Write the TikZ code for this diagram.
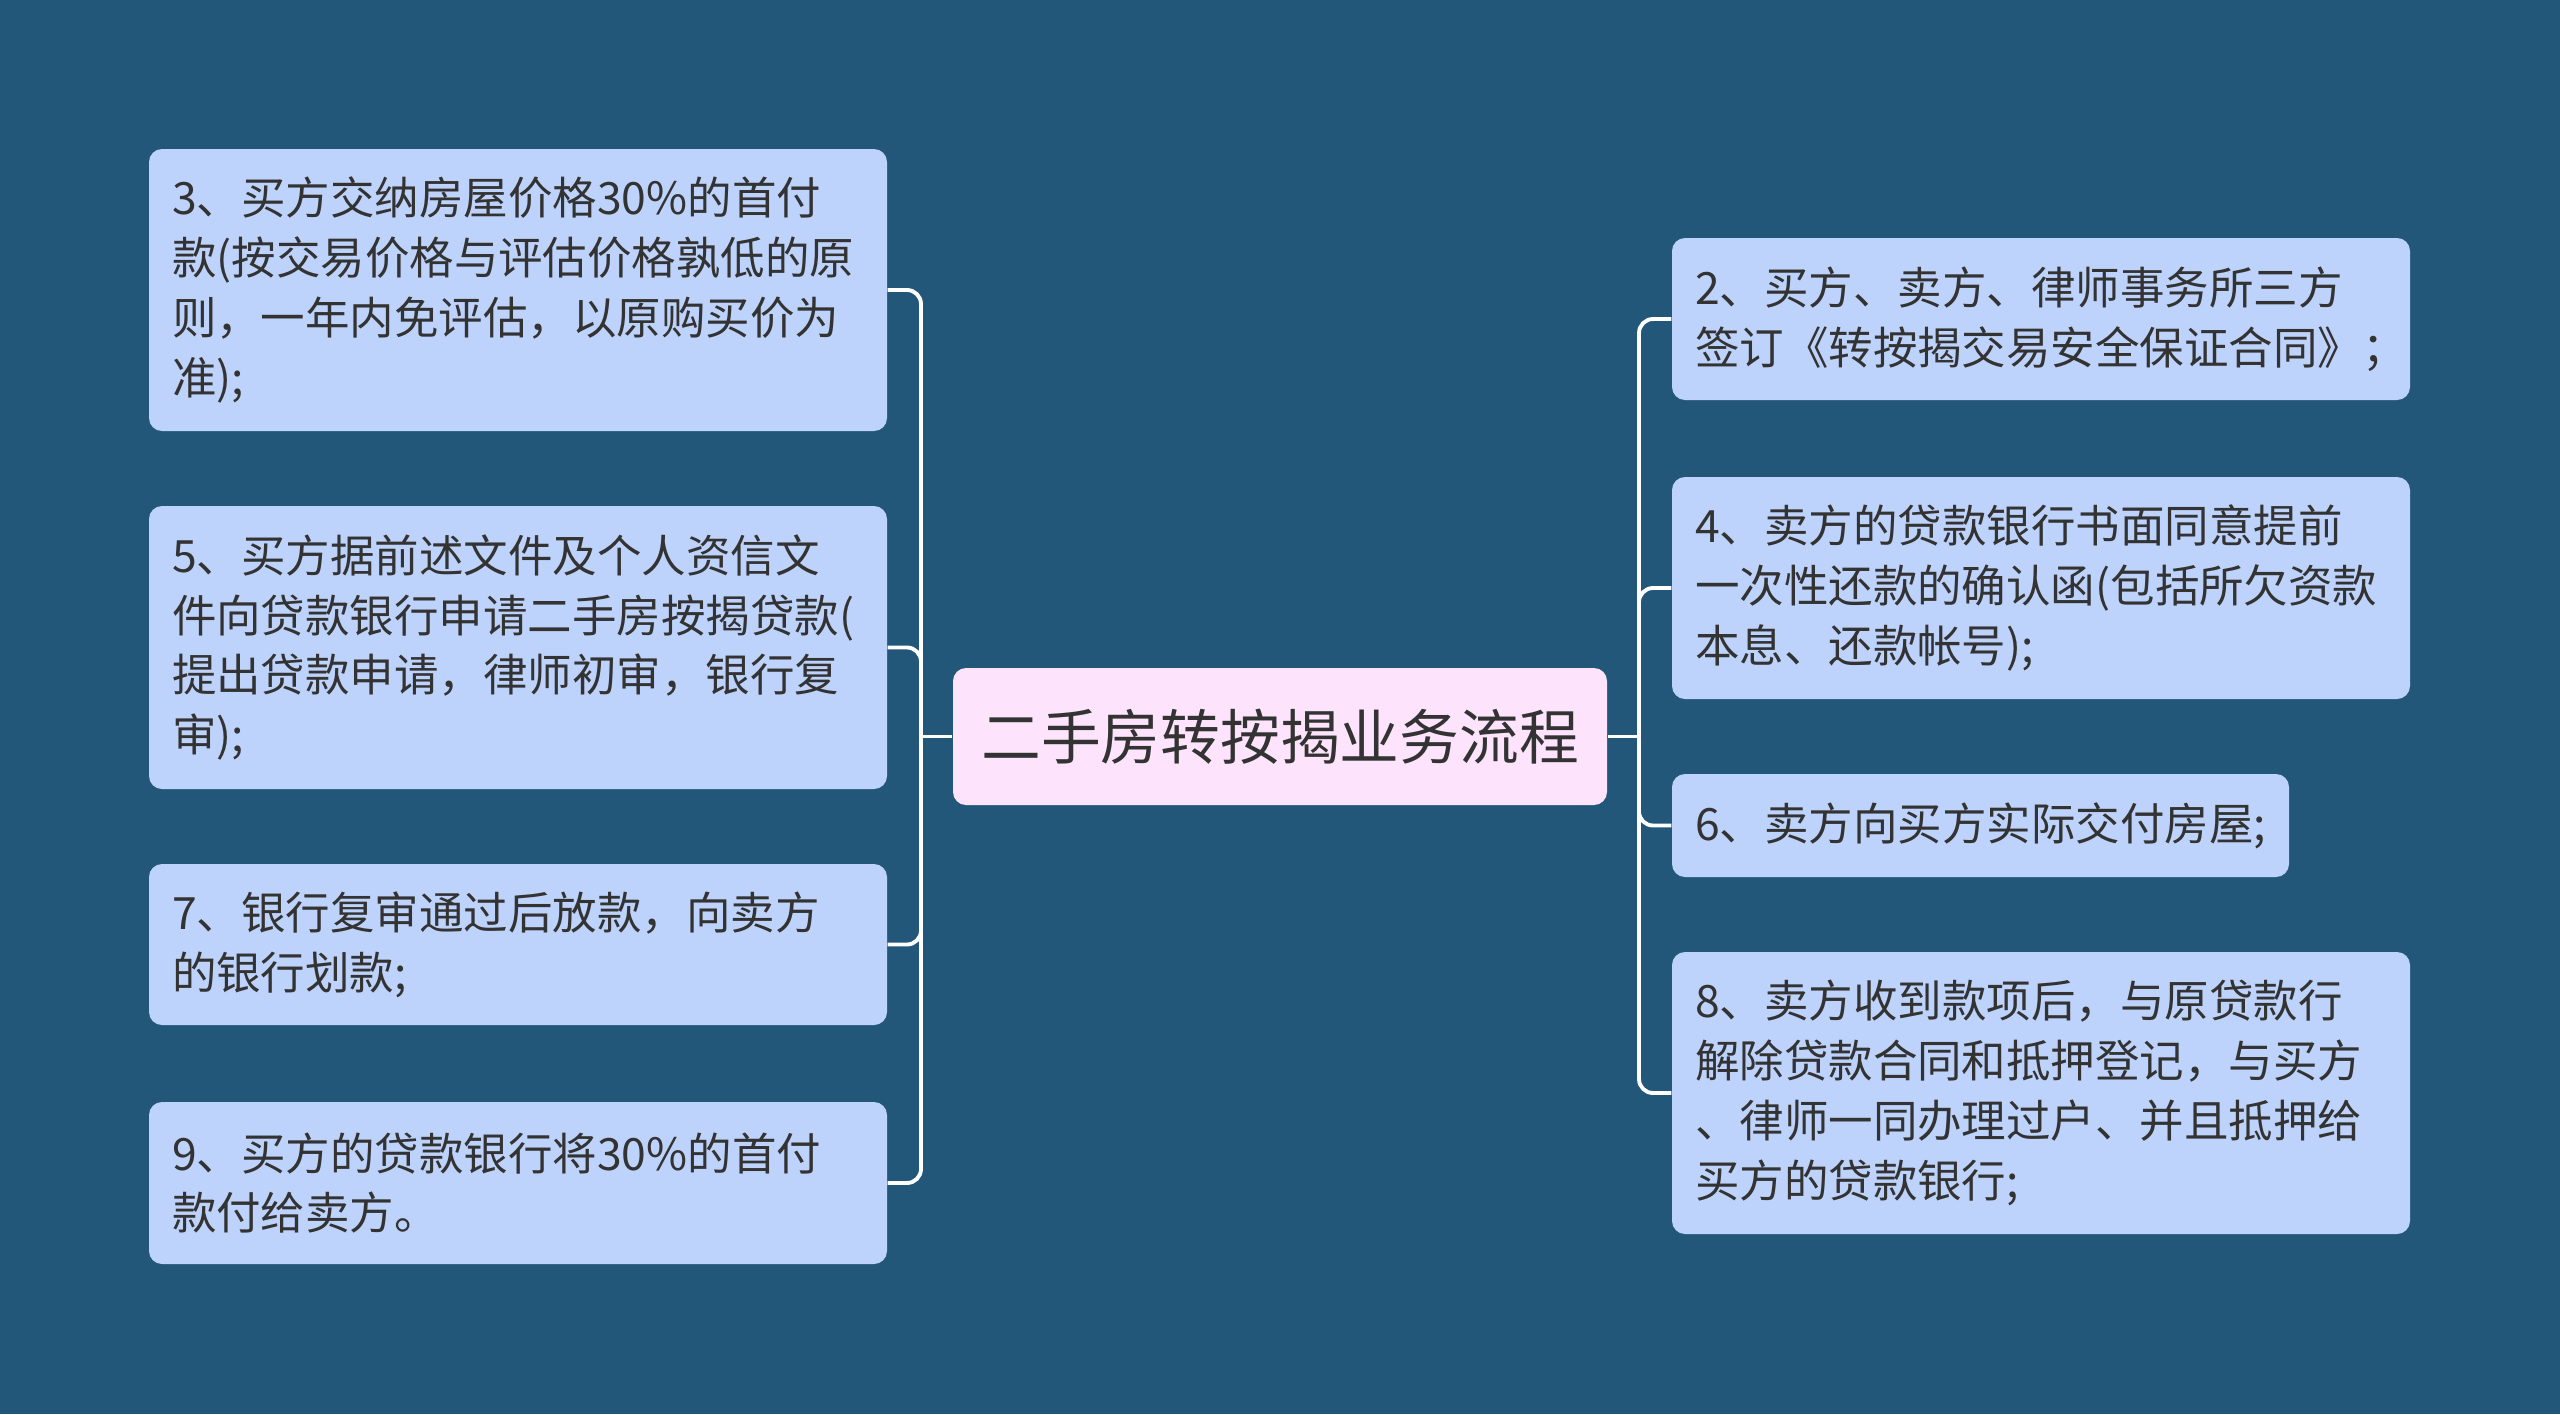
\documentclass[tikz,border=0pt]{standalone}
\usepackage{fontspec}
\setmainfont{Noto Sans CJK SC}
\definecolor{bg}{RGB}{35,87,121}
\definecolor{boxfill}{RGB}{190,211,252}
\definecolor{rootfill}{RGB}{253,228,252}
\definecolor{txt}{RGB}{51,51,51}
\begin{document}
\begin{tikzpicture}[
  leaf/.style={fill=boxfill, rounded corners=0.13cm, inner xsep=0.23cm, inner ysep=0cm,
    text=txt, font=\fontsize{12.66pt}{17pt}\selectfont, align=left},
  wideleaf/.style={leaf, text width=6.92cm, minimum width=7.38cm},
  root/.style={fill=rootfill, rounded corners=0.13cm, text=txt,
    font=\fontsize{17pt}{20pt}\selectfont, minimum width=6.54cm, minimum height=1.37cm, inner sep=0cm},
  conn/.style={draw=white, line width=1.1pt},
  branch/.style={conn, rounded corners=0.14cm}
]
\fill[bg] (0,0) rectangle (25.6,-14.14);
\useasboundingbox (0,0) rectangle (25.6,-14.14);

\node[root] (c) at (12.80,-7.365) {二手房转按揭业务流程};

\node[wideleaf, minimum height=2.82cm] (b3) at (5.18,-2.90) {3、买方交纳房屋价格30\%的首付\\款(按交易价格与评估价格孰低的原\\则，一年内免评估，以原购买价为\\准);};
\node[wideleaf, minimum height=2.83cm] (b5) at (5.18,-6.475) {5、买方据前述文件及个人资信文\\件向贷款银行申请二手房按揭贷款(\\提出贷款申请，律师初审，银行复\\审);};
\node[wideleaf, minimum height=1.61cm] (b7) at (5.18,-9.445) {7、银行复审通过后放款，向卖方\\的银行划款;};
\node[wideleaf, minimum height=1.62cm] (b9) at (5.18,-11.83) {9、买方的贷款银行将30\%的首付\\款付给卖方。};

\node[wideleaf, minimum height=1.62cm] (b2) at (20.41,-3.19) {2、买方、卖方、律师事务所三方\\签订《转按揭交易安全保证合同》；};
\node[wideleaf, minimum height=2.22cm] (b4) at (20.41,-5.88) {4、卖方的贷款银行书面同意提前\\一次性还款的确认函(包括所欠资款\\本息、还款帐号);};
\node[leaf, minimum width=6.17cm, minimum height=1.03cm] (b6) at (19.805,-8.255) {6、卖方向买方实际交付房屋;};
\node[wideleaf, minimum height=2.82cm] (b8) at (20.41,-10.93) {8、卖方收到款项后，与原贷款行\\解除贷款合同和抵押登记，与买方\\、律师一同办理过户、并且抵押给\\买方的贷款银行;};

\coordinate (lj) at (9.21,-7.365);
\coordinate (rj) at (16.39,-7.365);
\draw[conn] (c.west) -- (lj);
\draw[conn] (c.east) -- (rj);
\foreach \b in {b3,b5,b7,b9} \draw[branch] (lj) |- (\b.east);
\foreach \b in {b2,b4,b6,b8} \draw[branch] (rj) |- (\b.west);
\end{tikzpicture}
\end{document}
